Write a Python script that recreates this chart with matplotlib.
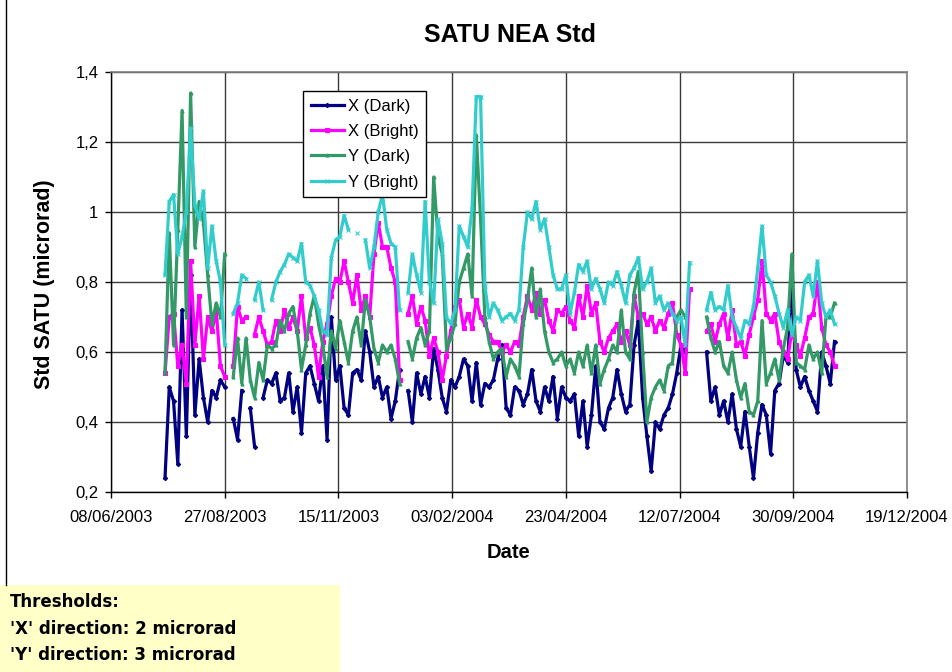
import numpy as np
import pandas as pd
import matplotlib
matplotlib.use("Agg")
import matplotlib.pyplot as plt
import matplotlib.dates as mdates
from matplotlib.ticker import FuncFormatter
from matplotlib.patches import Rectangle
from matplotlib.lines import Line2D

nan = np.nan

# ---- data (3-day sampling) ----
start_date = "2003-07-16"
step = "3D"

x_dark = [0.24, 0.50, 0.46, 0.28, 0.72, 0.36, 0.82, 0.42, 0.58, 0.47, 0.40, 0.49, 0.47, 0.52, 0.50,
          nan, 0.41, 0.35, 0.49, nan, 0.44, 0.33, nan, 0.47, 0.52, 0.51,
          0.54, 0.46, 0.47, 0.54, 0.43, 0.50, 0.37, 0.54, 0.56, 0.51, 0.46, 0.56, 0.35, 0.70, 0.52, 0.56,
          0.44, 0.42, 0.54, 0.55, 0.52, 0.66, 0.60, 0.50, 0.53, 0.47,
          0.50, 0.41, 0.46, 0.55, nan, 0.49, 0.40, 0.54, 0.48, 0.53, 0.47, 0.61, 0.55, 0.47, 0.43, 0.52,
          0.50, 0.53, 0.58, 0.56, 0.46, 0.57, 0.45, 0.51, 0.50, 0.52,
          0.58, 0.62, 0.44, 0.42, 0.50, 0.49, 0.45, 0.48, 0.55, 0.46, 0.43, 0.50, 0.46, 0.53, 0.41, 0.50,
          0.47, 0.46, 0.48, 0.36, 0.46, 0.33, 0.42, 0.56, 0.40,
          0.38, 0.44, 0.47, 0.55, 0.48, 0.43, 0.45, 0.62, 0.69, 0.47, 0.36, 0.26, 0.40, 0.38, 0.42, 0.44,
          0.48, 0.54, 0.62, 0.60,
          nan, nan, nan, nan,
          0.60, 0.46, 0.50, 0.42, 0.46, 0.40, 0.48, 0.38, 0.33, 0.43, 0.33, 0.24, 0.37, 0.45, 0.42, 0.31,
          0.49, 0.51, 0.59, 0.57, 0.80, 0.55, 0.50, 0.53, 0.49, 0.46, 0.43, 0.60, 0.56, 0.51, 0.63]

x_bright = [0.54, 0.70, 0.71, 0.56, 0.62, 0.51, 0.86, 0.62, 0.76, 0.58, 0.70, 0.66, 0.72, 0.56, 0.53,
            nan, 0.56, 0.73, 0.69, 0.70, nan, 0.65, 0.70, 0.66, 0.62, 0.63,
            0.69, 0.66, 0.72, 0.67, 0.70, 0.66, 0.76, 0.64, 0.67, 0.62, 0.53, 0.63, 0.68, 0.76, 0.81, 0.80,
            0.86, 0.80, 0.74, 0.82, 0.72, 0.76, 0.70, 0.88, 0.97, 0.90,
            0.90, 0.84, 0.80, 0.52, nan, 0.71, 0.76, 0.68, 0.73, 0.69, 0.59, 0.64, 0.60, 0.52, 0.59, 0.66,
            0.73, 0.75, 0.67, 0.71, 0.67, 0.75, 0.70, 0.68, 0.65, 0.63,
            0.63, 0.60, 0.62, 0.60, 0.63, 0.62, 0.70, 0.76, 0.72, 0.77, 0.71, 0.75, 0.69, 0.66, 0.72, 0.71,
            0.73, 0.69, 0.67, 0.76, 0.70, 0.79, 0.71, 0.74, 0.63,
            0.60, 0.64, 0.66, 0.68, 0.63, 0.66, 0.62, 0.76, 0.70, 0.71, 0.68, 0.70, 0.66, 0.69, 0.67, 0.71,
            0.74, 0.65, 0.62, 0.54,
            0.78, nan, nan, nan,
            0.66, 0.68, 0.63, 0.68, 0.71, 0.64, 0.72, 0.62, 0.63, 0.59, 0.65, 0.70, 0.75, 0.86, 0.71, 0.69,
            0.71, 0.63, 0.60, 0.58, 0.66, 0.62, 0.59, 0.64, 0.70, 0.71, 0.80, 0.67, 0.62, 0.60, 0.56]

y_dark = [0.54, 0.94, 0.62, 0.95, 1.29, 0.70, 1.34, 0.90, 1.03, 0.97, 0.82, 0.68, 0.74, 0.70, 0.88,
          nan, 0.53, 0.64, 0.51, 0.64, 0.52, 0.47, 0.57, 0.52, 0.62, 0.61,
          0.62, 0.69, 0.66, 0.71, 0.73, 0.66, 0.55, 0.62, 0.71, 0.76, 0.68, 0.62, 0.53, 0.66, 0.61, 0.69,
          0.63, 0.57, 0.66, 0.70, 0.62, 0.75, 0.70, 0.61, 0.57, 0.62,
          0.60, 0.62, 0.58, 0.51, nan, 0.63, 0.58, 0.64, 0.67, 0.62, 0.66, 1.10, 0.93, 0.88, 0.61, 0.64,
          0.68, 0.80, 0.84, 0.88, 0.76, 1.22, 0.98, 0.70, 0.63, 0.58,
          0.60, 0.61, 0.53, 0.58, 0.56, 0.53, 0.68, 0.75, 0.84, 0.70, 0.78, 0.66, 0.60, 0.57, 0.58, 0.60,
          0.56, 0.58, 0.54, 0.60, 0.56, 0.62, 0.54, 0.62, 0.51,
          0.55, 0.58, 0.62, 0.60, 0.72, 0.60, 0.58, 0.77, 0.83, 0.60, 0.40, 0.47, 0.50, 0.52, 0.49, 0.56,
          0.57, 0.70, 0.72, 0.70,
          nan, nan, nan, nan,
          0.70, 0.64, 0.60, 0.63, 0.56, 0.54, 0.60, 0.52, 0.47, 0.51, 0.43, 0.42, 0.46, 0.69, 0.51, 0.54,
          0.58, 0.52, 0.61, 0.67, 0.88, 0.57, 0.56, 0.55, 0.62, 0.58, 0.60, 0.54, 0.70, 0.70, 0.74]

y_bright = [0.82, 1.03, 1.05, 0.88, 0.93, 1.00, 1.24, 1.02, 0.98, 1.06, 0.84, 0.96, 0.86, 0.80, 0.62,
            nan, 0.71, 0.74, 0.82, 0.81, nan, 0.75, 0.80, 0.72, nan, 0.75,
            0.80, 0.83, 0.85, 0.88, 0.87, 0.86, 0.91, 0.80, 0.79, 0.76, 0.72, 0.66, 0.65, 0.87, 0.92, 0.93,
            0.99, 0.95, nan, 0.94, nan, 0.92, 0.84, 0.90, 1.00, 1.05,
            0.95, 0.91, 0.90, 0.72, nan, 0.77, 0.88, 0.82, 0.77, 1.03, 0.80, 0.74, 0.98, 0.91, 0.70, 0.68,
            0.72, 0.96, 0.93, 0.90, 1.01, 1.33, 1.33, 0.79, 0.70, 0.74,
            0.72, 0.69, 0.70, 0.71, 0.69, 0.72, 0.90, 1.00, 0.98, 1.03, 0.95, 0.98, 0.90, 0.82, 0.78, 0.78,
            0.82, 0.71, 0.77, 0.85, 0.83, 0.86, 0.78, 0.81, 0.78,
            0.74, 0.80, 0.79, 0.83, 0.79, 0.74, 0.82, 0.84, 0.87, 0.78, 0.80, 0.84, 0.74, 0.76, 0.72, 0.74,
            0.71, 0.69, 0.70, 0.62,
            0.855, nan, nan, nan,
            0.72, 0.77, 0.72, 0.73, 0.72, 0.79, 0.70, 0.67, 0.64, 0.69, 0.68, 0.73, 0.84, 0.96, 0.82, 0.80,
            0.76, 0.71, 0.67, 0.72, 0.65, 0.70, 0.69, 0.80, 0.82, 0.76, 0.86, 0.74, 0.70, 0.72, 0.68]

series_labels = ["X (Dark)", "X (Bright)", "Y (Dark)", "Y (Bright)"]
series_colors = ["#000080", "#FF00FF", "#339966", "#33CCCC"]
series_markers = ["D", "s", "^", "x"]

tick_dates = ["2003-06-08", "2003-08-27", "2003-11-15", "2004-02-03",
              "2004-04-23", "2004-07-12", "2004-09-30", "2004-12-19"]
y_ticks = [0.2, 0.4, 0.6, 0.8, 1.0, 1.2, 1.4]

threshold_lines = ["Thresholds:", "'X' direction: 2 microrad", "'Y' direction: 3 microrad"]

# ---- figure ----
W, H = 952, 672
fig = plt.figure(figsize=(W / 100, H / 100), dpi=100)
fig.patch.set_facecolor("white")

ax = fig.add_axes([111 / W, 1 - 492 / H, (907 - 111) / W, (492 - 72) / H])

dates = pd.date_range(start_date, periods=len(x_dark), freq=step)
all_series = [x_dark, x_bright, y_dark, y_bright]
for vals, lab, col, mk in zip(all_series, series_labels, series_colors, series_markers):
    ax.plot(dates, np.array(vals, dtype=float), color=col, lw=2.3, label=lab,
            marker=mk, markersize=2.2, markeredgewidth=0.8, markerfacecolor=col,
            markeredgecolor=col, solid_joinstyle="round")

ax.set_xlim(pd.Timestamp(tick_dates[0]), pd.Timestamp(tick_dates[-1]))
ax.set_ylim(0.2, 1.4)
ax.set_xticks([pd.Timestamp(d) for d in tick_dates])
ax.xaxis.set_major_formatter(mdates.DateFormatter("%d/%m/%Y"))
ax.set_yticks(y_ticks)
ax.yaxis.set_major_formatter(FuncFormatter(lambda v, p: f"{round(v, 1):g}".replace(".", ",")))

ax.grid(True, color="#3a3a3a", lw=1.0)
ax.set_axisbelow(True)
for s in ["top", "right"]:
    ax.spines[s].set_color("#808080")
    ax.spines[s].set_linewidth(1.2)
for s in ["left", "bottom"]:
    ax.spines[s].set_color("black")
    ax.spines[s].set_linewidth(1.0)

tick_font = "Liberation Sans"
ax.tick_params(axis="x", direction="out", length=4, width=1, pad=9, labelsize=12)
ax.tick_params(axis="y", direction="out", length=4, width=1, pad=5, labelsize=12)
for lbl in ax.get_xticklabels() + ax.get_yticklabels():
    lbl.set_family(tick_font)

# legend
leg = ax.legend(loc="upper left", bbox_to_anchor=(303 / W, 1 - 91 / H),
                bbox_transform=fig.transFigure, frameon=True, fancybox=False,
                shadow=False, prop={"family": "Liberation Sans", "size": 12},
                handlelength=2.0, handletextpad=0.25, labelspacing=0.62,
                borderpad=0.45, borderaxespad=0.0, markerscale=1.0)
leg.get_frame().set_edgecolor("black")
leg.get_frame().set_linewidth(1.0)
leg.get_frame().set_alpha(1.0)

# texts
fig.text(510 / W, 1 - 35 / H, "SATU NEA Std", ha="center", va="center",
         fontsize=18, fontweight="bold", family="Liberation Sans")
fig.text(45 / W, 1 - 284 / H, "Std SATU (microrad)", ha="center", va="center",
         rotation=90, fontsize=15.5, fontweight="bold", family="Liberation Sans")
fig.text(509 / W, 1 - 553 / H, "Date", ha="center", va="center",
         fontsize=14.5, fontweight="bold", family="Liberation Sans")

# chart-area border (left edge)
fig.add_artist(Line2D([5.5 / W, 5.5 / W], [1 - 585 / H, 1.0], transform=fig.transFigure,
                      color="black", lw=1.0))

# thresholds box
fig.add_artist(Rectangle((0, 0), 340 / W, 87 / H, transform=fig.transFigure,
                         facecolor="#FFFFC8", edgecolor="none"))
for k, line in enumerate(threshold_lines):
    fig.text(10 / W, 1 - (602 + 26.5 * k) / H, line, ha="left", va="center",
             fontsize=12, fontweight="bold", family="DejaVu Sans")

fig.savefig("out.png", dpi=100, facecolor="white")
